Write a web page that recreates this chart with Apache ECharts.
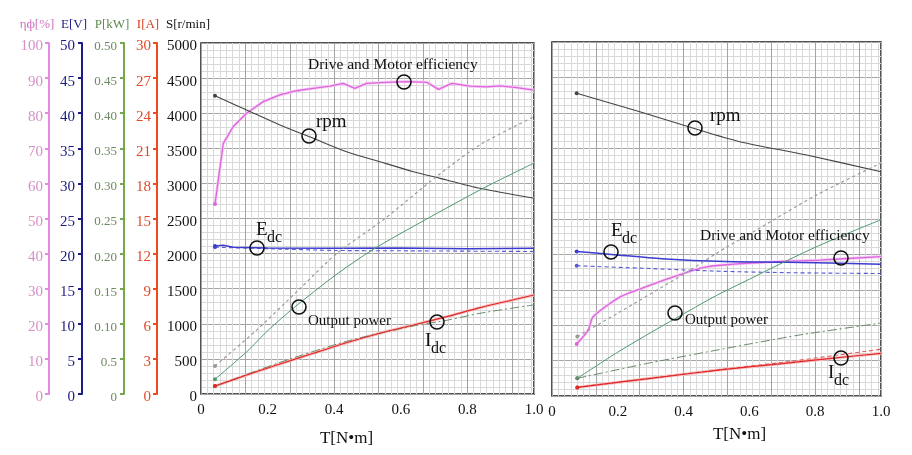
<!DOCTYPE html>
<html><head><meta charset="utf-8">
<script src="https://cdn.jsdelivr.net/npm/echarts@6/dist/echarts.min.js"></script>
<style>html,body{margin:0;padding:0;background:#fff}#c{width:912px;height:455px}</style>
</head><body><div id="c"></div>
<script>
// ---------- tick labels ----------
const xTickLabels = ['0','0.2','0.4','0.6','0.8','1.0'];
const etaTicks = ['0','10','20','30','40','50','60','70','80','90','100'];
const eTicks = ['0','5','10','15','20','25','30','35','40','45','50'];
const pTicks = ['0','0.5','0.10','0.15','0.20','0.25','0.30','0.35','0.40','0.45','0.50'];
const iTicks = ['0','3','6','9','12','15','18','21','24','27','30'];
const sTicks = ['0','500','1000','1500','2000','2500','3000','3500','4000','4500','5000'];

// ---------- left chart data ----------
const leftEffT = [0.042,0.067,0.097,0.137,0.187,0.237,0.287,0.337,0.387,0.427,0.462,0.497,0.557,0.618,0.678,0.713,0.753,0.808,0.858,0.898,0.948,1.0];
const leftEff  = [54.1,71.4,76.2,80.0,83.3,85.2,86.4,87.1,87.7,88.5,87.1,88.5,88.8,89.0,88.8,86.8,88.5,87.7,87.5,87.8,87.3,86.6];
const leftRpmT = [0.042,0.137,0.237,0.337,0.437,0.537,0.638,0.718,0.838,1.0];
const leftRpm  = [4249,4046,3832,3642,3452,3309,3167,3072,2930,2788];
const leftEdcT = [0.042,0.067,0.097,0.2,0.4,0.6,0.8,1.0];
const leftEdc  = [21.1,21.2,20.9,20.8,20.75,20.8,20.7,20.75];
const leftEdcRefT = [0.042,0.2,0.4,0.6,0.8,1.0];
const leftEdcRef  = [20.9,20.7,20.45,20.4,20.35,20.3];
const leftPoutT = [0.042,0.137,0.202,0.282,0.4,0.517,0.673,0.847,1.0];
const leftPout  = [0.021,0.060,0.091,0.124,0.168,0.206,0.248,0.293,0.329];
const leftPinT = [0.042,0.167,0.297,0.407,0.547,0.708,0.838,1.0];
const leftPin  = [0.040,0.091,0.150,0.200,0.248,0.310,0.355,0.395];
const leftPaltT = [0.042,0.237,0.437,0.638,0.738,0.838,1.0];
const leftPalt  = [0.011,0.045,0.075,0.097,0.105,0.115,0.127];
const leftIdcT = [0.042,0.137,0.237,0.337,0.437,0.537,0.638,0.738,0.838,1.0];
const leftIdc  = [0.68,1.62,2.56,3.48,4.38,5.19,5.90,6.61,7.38,8.46];

// ---------- right chart data ----------
const rightRpmT = [0.075,0.267,0.43,0.571,0.774,1.0];
const rightRpm  = [4275,4016,3781,3592,3404,3168];
const rightEdcT = [0.075,0.181,0.333,0.526,0.713,1.0];
const rightEdc  = [20.4,20.0,19.4,19.0,18.9,18.6];
const rightEdcRefT = [0.075,0.3,0.526,0.75,1.0];
const rightEdcRef  = [18.4,18.0,17.6,17.4,17.3];
const rightEffT = [0.075,0.11,0.125,0.207,0.273,0.349,0.47,0.673,0.815,1.0];
const rightEff  = [14.7,18.6,22.4,28.0,30.4,33.0,36.5,37.9,38.4,39.4];
const rightPoutT = [0.077,0.2,0.313,0.4,0.5,0.6,0.7,0.8,0.9,1.0];
const rightPout  = [0.025,0.062,0.093,0.116,0.142,0.165,0.188,0.21,0.23,0.249];
const rightPinT = [0.077,0.2,0.4,0.526,0.62,0.8,1.0];
const rightPin  = [0.084,0.117,0.172,0.209,0.234,0.283,0.329];
const rightPaltT = [0.077,0.3,0.526,0.75,1.0];
const rightPalt  = [0.025,0.047,0.067,0.086,0.103];
const rightIdcT = [0.077,0.3,0.526,0.7,0.85,1.0];
const rightIdc  = [0.73,1.5,2.26,2.75,3.19,3.62];
const rightIdcRefT = [0.077,0.5,0.7,0.85,1.0];
const rightIdcRef  = [0.73,2.2,2.85,3.4,3.96];

const F = "'Liberation Serif','Times New Roman',serif";
const pair = (t, v) => t.map((x, i) => [x, v[i]]);
const MAJOR = '#a4a4a4', MINOR = '#d9d9d9';

function labelAxis(grid, name, namePad, nameGap) {
  return {
    type:'value', gridIndex:grid, min:0, max:1, interval:0.2, position:'bottom',
    axisLine:{show:false, onZero:false}, axisTick:{show:false}, splitLine:{show:false},
    axisLabel:{margin:9, fontFamily:F, fontSize:15, color:'#111',
      formatter:v => xTickLabels[Math.round(v/0.2)]},
    name:name, nameLocation:'middle', nameGap:nameGap,
    nameTextStyle:{fontFamily:F, fontSize:17, color:'#111', padding:namePad}
  };
}
function gridXAxis(grid) {
  return {
    type:'value', gridIndex:grid, min:0, max:1, interval:2/15, position:'bottom',
    axisLine:{show:false, onZero:false}, axisTick:{show:false}, axisLabel:{show:false},
    splitLine:{show:true, lineStyle:{color:MAJOR, width:1}},
    minorTick:{show:false, splitNumber:7},
    minorSplitLine:{show:true, lineStyle:{color:MINOR, width:1}}
  };
}
function valAxis(grid, max, labels, opts) {
  const o = Object.assign({visible:true}, opts);
  const ax = {
    type:'value', gridIndex:grid, min:0, max:max, interval:max/10, position:'left',
    offset:o.offset || 0
  };
  if (!o.visible) {
    ax.axisLine = {show:false, onZero:false}; ax.axisTick = {show:false}; ax.axisLabel = {show:false};
    ax.splitLine = {show: !!o.grid, lineStyle:{color:MAJOR, width:1}};
    if (o.grid) {
      ax.minorTick = {show:false, splitNumber:5};
      ax.minorSplitLine = {show:true, lineStyle:{color:MINOR, width:1}};
    }
    return ax;
  }
  ax.axisLine = {show: o.line !== false, onZero:false, lineStyle:{color:o.lineColor, width:2}};
  ax.axisTick = {show: o.line !== false, length:4, lineStyle:{color:o.lineColor, width:2}};
  ax.axisLabel = {margin:o.margin, fontFamily:F, fontSize:o.fontSize || 15, color:o.labelColor,
    verticalAlign:'top', lineHeight:7,
    formatter:v => labels[Math.round(v/(max/10))]};
  ax.splitLine = {show: !!o.grid, lineStyle:{color:MAJOR, width:1}};
  if (o.grid) {
    ax.minorTick = {show:false, splitNumber:5};
    ax.minorSplitLine = {show:true, lineStyle:{color:MINOR, width:1}};
  }
  ax.name = o.name; ax.nameLocation = 'end'; ax.nameGap = 12;
  ax.nameTextStyle = {fontFamily:F, fontSize:13, color:o.nameColor, padding:[0, o.namePad, 0, 0]};
  return ax;
}

const firstDot = (v, p) => p.dataIndex === 0 ? 4 : 0;
function ln(xi, yi, data, color, width, type, extra) {
  return Object.assign({
    type:'line', xAxisIndex:xi, yAxisIndex:yi, data:data,
    symbol:'circle', symbolSize:firstDot, showSymbol:true, smooth:0.25,
    lineStyle:{color:color, width:width, type:type},
    itemStyle:{color:color}, silent:true, z:3
  }, extra || {});
}

const option = {
  animation:false, backgroundColor:'#fff',
  grid:[
    {left:201, top:43, width:333, height:351, show:true, borderColor:'#1a1a1a', borderWidth:1.5, backgroundColor:'#fff'},
    {left:552, top:42, width:329, height:354, show:true, borderColor:'#1a1a1a', borderWidth:1.5, backgroundColor:'#fff'}
  ],
  xAxis:[ labelAxis(0,'T[N•m]',[0,42,0,0],36), gridXAxis(0), labelAxis(1,'T[N•m]',[0,0,0,46],30), gridXAxis(1) ],
  yAxis:[
    valAxis(0, 5000, sTicks, {offset:0, line:false, grid:true, margin:4, labelColor:'#111', name:'S[r/min]', nameColor:'#111', namePad:26}),
    valAxis(0, 30, iTicks, {offset:44, lineColor:'#f04a1c', labelColor:'#e04a2a', margin:6, name:'I[A]', nameColor:'#d8401e', namePad:18}),
    valAxis(0, 0.5, pTicks, {offset:77, lineColor:'#74a84a', labelColor:'#6e8a60', margin:7, fontSize:13, name:'P[kW]', nameColor:'#5f8a4f', namePad:24}),
    valAxis(0, 50, eTicks, {offset:119, lineColor:'#1c1c88', labelColor:'#1c1c80', margin:7, name:'E[V]', nameColor:'#1c1c88', namePad:16}),
    valAxis(0, 100, etaTicks, {offset:152, lineColor:'#e48ae4', labelColor:'#d690c8', margin:6, name:'ηф[%]', nameColor:'#d070c0', namePad:24}),
    valAxis(1, 5000, sTicks, {visible:false, grid:true}),
    valAxis(1, 30, iTicks, {visible:false}),
    valAxis(1, 0.5, pTicks, {visible:false}),
    valAxis(1, 50, eTicks, {visible:false}),
    valAxis(1, 100, etaTicks, {visible:false})
  ],
  series:[
    // left
    ln(0,4,pair(leftEffT,leftEff),'#f5cdf3',3,'solid',{smooth:false,symbolSize:0,z:2}),
    ln(0,4,pair(leftEffT,leftEff),'#dd66dd',1.3,'solid',{smooth:false}),
    ln(0,0,pair(leftRpmT,leftRpm),'#444',1.1,'solid'),
    ln(0,3,pair(leftEdcRefT,leftEdcRef),'#5a5ad6',1.1,[4,3]),
    ln(0,3,pair(leftEdcT,leftEdc),'#3c3cd0',1.5,'solid',{smooth:false}),
    ln(0,2,pair(leftPinT,leftPin),'#9a9a9a',1.2,[3,3]),
    ln(0,2,pair(leftPoutT,leftPout),'#4e9a6e',1.0,'solid'),
    ln(0,2,pair(leftPaltT,leftPalt),'#6a8a6a',1.0,[9,3,2,3]),
    ln(0,1,pair(leftIdcT,leftIdc),'#f7c0c0',3,'solid',{symbolSize:0,z:2}),
    ln(0,1,pair(leftIdcT,leftIdc),'#e02828',1.2,'solid'),
    // right
    ln(2,9,pair(rightEffT,rightEff),'#f5cdf3',3,'solid',{symbolSize:0,z:2}),
    ln(2,9,pair(rightEffT,rightEff),'#dd66dd',1.3,'solid'),
    ln(2,5,pair(rightRpmT,rightRpm),'#444',1.1,'solid'),
    ln(2,8,pair(rightEdcRefT,rightEdcRef),'#5a5ad6',1.1,[4,3]),
    ln(2,8,pair(rightEdcT,rightEdc),'#3c3cd0',1.5,'solid'),
    ln(2,7,pair(rightPinT,rightPin),'#9a9a9a',1.2,[3,3]),
    ln(2,7,pair(rightPoutT,rightPout),'#4e9a6e',1.0,'solid'),
    ln(2,7,pair(rightPaltT,rightPalt),'#6a8a6a',1.0,[9,3,2,3]),
    ln(2,6,pair(rightIdcRefT,rightIdcRef),'#e06060',1.1,[4,3]),
    ln(2,6,pair(rightIdcT,rightIdc),'#f7c0c0',3,'solid',{symbolSize:0,z:2}),
    ln(2,6,pair(rightIdcT,rightIdc),'#e02828',1.2,'solid')
  ],
  graphic:[]
};

// annotations (positions only; text is centred vertically on y)
const G = option.graphic;
function txt(x, y, s, size) {
  G.push({type:'text', z:100, style:{x:x, y:y, text:s, fill:'#111', font:size+'px '+F, textAlign:'left', textVerticalAlign:'middle'}});
}
function circ(x, y) {
  G.push({type:'circle', z:100, shape:{cx:x, cy:y, r:7}, style:{fill:'none', stroke:'#111', lineWidth:1.6}});
}
// left plot
txt(308, 65, 'Drive and Motor efficiency', 15.5); circ(404, 82);
txt(316, 122, 'rpm', 19); circ(309, 136);
txt(256, 230, 'E', 19); txt(267, 238, 'dc', 16); circ(257, 248);
circ(299, 307); txt(308, 321, 'Output power', 15);
txt(425, 341, 'I', 19); txt(431, 349, 'dc', 16); circ(437, 322);
// right plot
txt(710, 116, 'rpm', 19); circ(695, 128);
txt(611, 231, 'E', 19); txt(622, 239, 'dc', 16); circ(611, 252);
txt(700, 236, 'Drive and Motor efficiency', 15.5); circ(841, 258);
circ(675, 313); txt(685, 320, 'Output power', 15);
txt(828, 373, 'I', 19); txt(834, 381, 'dc', 16); circ(841, 358);

echarts.init(document.getElementById('c'), null, {renderer:'canvas'}).setOption(option);
</script>
</body></html>
